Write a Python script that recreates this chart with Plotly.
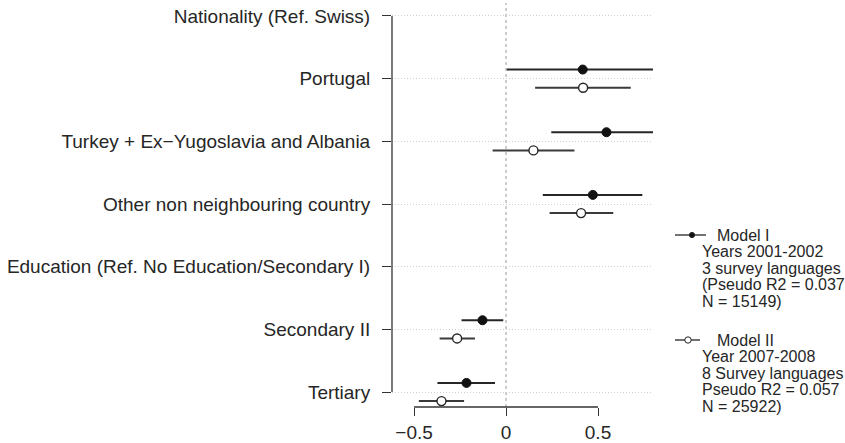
import plotly.graph_objects as go

# ---------------- data ----------------
categories = [
    "Nationality (Ref. Swiss)",
    "Portugal",
    "Turkey + Ex\u2212Yugoslavia and Albania",
    "Other non neighbouring country",
    "Education (Ref. No Education/Secondary I)",
    "Secondary II",
    "Tertiary",
]
# Model I (Years 2001-2002)
m1_est = [None, 0.417, 0.546, 0.472, None, -0.128, -0.215]
m1_low = [None, 0.004, 0.246, 0.200, None, -0.242, -0.373]
m1_high = [None, 0.830, 0.846, 0.741, None, -0.015, -0.060]
# Model II (Year 2007-2008)
m2_est = [None, 0.419, 0.149, 0.408, None, -0.266, -0.351]
m2_low = [None, 0.158, -0.073, 0.237, None, -0.361, -0.474]
m2_high = [None, 0.678, 0.372, 0.583, None, -0.169, -0.228]

x_tickvals = [-0.5, 0, 0.5]
x_ticktext = ["\u22120.5", "0", "0.5"]

legend_m1 = ["Model I", "Years 2001-2002", "3 survey languages",
             "(Pseudo R2 = 0.037;", "N = 15149)"]
legend_m2 = ["Model II", "Year 2007-2008", "8 Survey languages",
             "Pseudo R2 = 0.057", "N = 25922)"]

# ---------------- layout geometry ----------------
W, H = 845, 443
L, R, T, B = 392, 653, 3, 407   # plot area in pixels
FONT = "Liberation Sans, Arial, Helvetica, sans-serif"
TXT = "#262626"
AX = "#333333"
OFF = 0.145


def px(xp):
    return (xp - L) / (R - L)


def py(yp):
    return (B - yp) / (B - T)


ypos = [-i for i in range(len(categories))]


def split(est, low, high, off):
    ys, xs, plus, minus = [], [], [], []
    for y, e, lo, hi in zip(ypos, est, low, high):
        if e is None:
            continue
        ys.append(y + off)
        xs.append(e)
        plus.append(hi - e)
        minus.append(e - lo)
    return xs, ys, plus, minus


fig = go.Figure()

x1, y1, p1, n1 = split(m1_est, m1_low, m1_high, OFF)
x2, y2, p2, n2 = split(m2_est, m2_low, m2_high, -OFF)

fig.add_trace(go.Scatter(
    x=x1, y=y1, mode="markers", name="Model I",
    marker=dict(size=9, color="#111111", line=dict(width=1, color="#111111")),
    error_x=dict(type="data", symmetric=False, array=p1, arrayminus=n1,
                 width=0, thickness=2, color="#262626"),
    showlegend=False,
))
fig.add_trace(go.Scatter(
    x=x2, y=y2, mode="markers", name="Model II",
    marker=dict(size=9, color="white", line=dict(width=1.4, color="#262626")),
    error_x=dict(type="data", symmetric=False, array=p2, arrayminus=n2,
                 width=0, thickness=2, color="#3a3a3a"),
    showlegend=False,
))

shapes = []
# zero reference line
shapes.append(dict(type="line", xref="x", yref="paper", x0=0, x1=0, y0=0, y1=1,
                   line=dict(color="#9a9a9a", width=1, dash="3px,3px"), layer="below"))
# y axis line (spans first to last tick, R-style)
shapes.append(dict(type="line", xref="paper", yref="y", x0=0, x1=0,
                   y0=ypos[0], y1=ypos[-1], line=dict(color=AX, width=1.3)))
# x axis line
shapes.append(dict(type="line", xref="x", yref="paper", x0=x_tickvals[0], x1=x_tickvals[-1],
                   y0=0, y1=0, line=dict(color=AX, width=1.3)))

annotations = []
# legend block
for block, ytop, lx0, lx1, mx, filled in [
    (legend_m1, 235, 675, 706, 692, True),
    (legend_m2, 340, 675, 700, 688, False),
]:
    shapes.append(dict(type="line", xref="paper", yref="paper",
                       x0=px(lx0), x1=px(lx1), y0=py(ytop), y1=py(ytop),
                       line=dict(color="#262626", width=1.3)))
    r = 2.6 if filled else 3.2
    shapes.append(dict(type="circle", xref="paper", yref="paper",
                       x0=px(mx - r), x1=px(mx + r), y0=py(ytop + r), y1=py(ytop - r),
                       fillcolor="#111111" if filled else "white",
                       line=dict(color="#262626", width=1)))
    for k, line in enumerate(block):
        xs = 715 if k == 0 else 700
        annotations.append(dict(
            xref="paper", yref="paper", x=px(xs), y=py(ytop + k * 16.5),
            xanchor="left", yanchor="middle", showarrow=False,
            text=line, font=dict(family=FONT, size=16, color=TXT)))

fig.update_layout(
    width=W, height=H,
    margin=dict(l=L, r=W - R, t=T, b=H - B, pad=0, autoexpand=False),
    paper_bgcolor="white", plot_bgcolor="white",
    font=dict(family=FONT, color=TXT),
    shapes=shapes, annotations=annotations,
    showlegend=False,
    xaxis=dict(
        range=[-0.62, 0.799], tickvals=x_tickvals, ticktext=x_ticktext,
        ticks="outside", ticklen=8, tickwidth=1.3, tickcolor=AX,
        showgrid=False, zeroline=False, showline=False, automargin=False,
        tickfont=dict(family=FONT, size=19, color=TXT),
        ticklabelstandoff=0,
    ),
    yaxis=dict(
        range=[-6.239, 0.207], tickvals=ypos, ticktext=categories,
        ticks="outside", ticklen=9, tickwidth=1.3, tickcolor=AX,
        showgrid=True, gridcolor="#cfcfcf", griddash="1px,2px", gridwidth=1,
        zeroline=False, showline=False, automargin=False,
        tickfont=dict(family=FONT, size=19, color=TXT),
        ticklabelstandoff=8,
    ),
)

fig.write_html("out.html",
               config={"displayModeBar": False},
               post_script="document.body.style.margin='0';document.body.style.overflow='hidden';")
